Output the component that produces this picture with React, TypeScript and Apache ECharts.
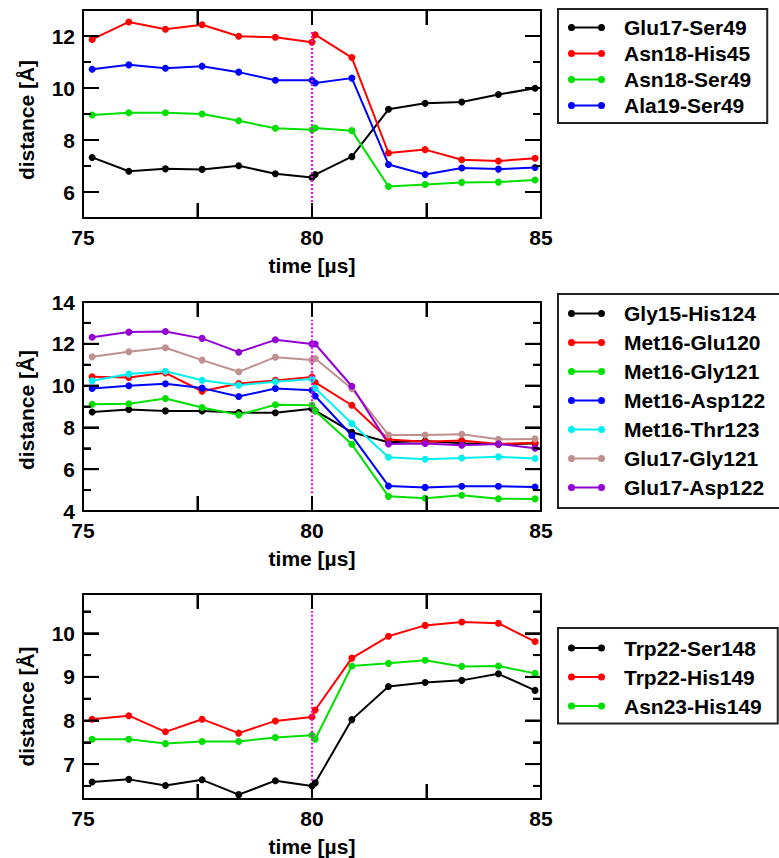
import React, { useEffect, useRef } from "react";
import * as echarts from "echarts";

// time points [µs]
const T = [75.2, 76.0, 76.8, 77.6, 78.4, 79.2, 80.0, 80.07, 80.87, 81.67, 82.47, 83.27, 84.07, 84.87];

// Panel 1
const glu17Ser49 = [7.33, 6.8, 6.89, 6.87, 7.01, 6.7, 6.56, 6.67, 7.36, 9.18, 9.41, 9.46, 9.75, 9.99];
const asn18His45 = [11.87, 12.54, 12.26, 12.43, 11.99, 11.95, 11.76, 12.05, 11.17, 7.5, 7.63, 7.24, 7.19, 7.3];
const asn18Ser49 = [8.96, 9.05, 9.05, 9.0, 8.74, 8.45, 8.39, 8.46, 8.36, 6.21, 6.29, 6.37, 6.38, 6.46];
const ala19Ser49 = [10.72, 10.89, 10.76, 10.84, 10.61, 10.3, 10.3, 10.19, 10.38, 7.06, 6.67, 6.92, 6.88, 6.94];

// Panel 2
const gly15His124 = [8.74, 8.86, 8.79, 8.79, 8.71, 8.7, 8.89, 8.8, 7.77, 7.29, 7.35, 7.24, 7.19, 7.23];
const met16Glu120 = [10.42, 10.39, 10.61, 9.73, 10.1, 10.25, 10.41, 10.15, 9.06, 7.42, 7.31, 7.37, 7.21, 7.26];
const met16Gly121 = [9.11, 9.13, 9.38, 8.95, 8.6, 9.08, 9.06, 8.79, 7.19, 4.7, 4.61, 4.75, 4.59, 4.58];
const met16Asp122 = [9.86, 9.99, 10.09, 9.88, 9.48, 9.86, 9.78, 9.5, 7.61, 5.2, 5.13, 5.18, 5.18, 5.15];
const met16Thr123 = [10.23, 10.55, 10.69, 10.26, 10.02, 10.18, 10.31, 9.88, 8.19, 6.57, 6.48, 6.54, 6.59, 6.51];
const glu17Gly121 = [11.38, 11.62, 11.81, 11.22, 10.66, 11.36, 11.22, 11.3, 9.85, 7.64, 7.64, 7.67, 7.43, 7.45];
const glu17Asp122 = [12.31, 12.56, 12.59, 12.26, 11.6, 12.19, 11.99, 11.99, 9.97, 7.21, 7.23, 7.15, 7.21, 7.0];

// Panel 3
const trp22Ser148 = [6.59, 6.65, 6.51, 6.64, 6.3, 6.62, 6.5, 6.57, 8.02, 8.78, 8.87, 8.92, 9.07, 8.69];
const trp22His149 = [8.03, 8.11, 7.74, 8.03, 7.71, 7.99, 8.08, 8.24, 9.43, 9.93, 10.18, 10.26, 10.23, 9.81];
const asn23His149 = [7.57, 7.57, 7.47, 7.52, 7.52, 7.61, 7.66, 7.57, 9.25, 9.31, 9.38, 9.24, 9.25, 9.08];

// axis ranges / ticks
const yRange1 = [5, 13];
const yMajor1 = [6, 8, 10, 12];
const yMinor1 = [7, 9, 11];
const yRange2 = [4, 14];
const yMajor2 = [4, 6, 8, 10, 12, 14];
const yMinor2 = [5, 7, 9, 11, 13];
const yRange3 = [6.2, 10.9];
const yMajor3 = [7, 8, 9, 10];
const yMinor3 = [6.5, 7.5, 8.5, 9.5, 10.5];
const xRange = [75, 85];
const xTicks = [75, 77.5, 80, 82.5, 85];
const xLabels = [75, 80, 85];
const markerTime = 80;
const marker1 = [5.62, 12.23];
const marker2 = [4.85, 13.15];
const marker3 = [6.62, 10.51];

const FONT = "'Liberation Sans', Arial, Helvetica, sans-serif";

const panels = [
  {
    grid: { left: 83, top: 10, width: 458, height: 208 },
    yRange: yRange1, yMajor: yMajor1, yMinor: yMinor1, marker: marker1, namePad: 12,
    legend: { top: 9, padding: [8, 16, 7, 10], itemGap: 5 },
    series: [
      { name: "Glu17-Ser49", data: glu17Ser49, color: "#000000" },
      { name: "Asn18-His45", data: asn18His45, color: "#ff0000" },
      { name: "Asn18-Ser49", data: asn18Ser49, color: "#00e000" },
      { name: "Ala19-Ser49", data: ala19Ser49, color: "#0000ff" },
    ],
  },
  {
    grid: { left: 83, top: 302, width: 458, height: 209 },
    yRange: yRange2, yMajor: yMajor2, yMinor: yMinor2, marker: marker2, namePad: 7,
    legend: { top: 294, padding: [9, 16, 10, 10], itemGap: 8 },
    series: [
      { name: "Gly15-His124", data: gly15His124, color: "#000000" },
      { name: "Met16-Glu120", data: met16Glu120, color: "#ff0000" },
      { name: "Met16-Gly121", data: met16Gly121, color: "#00e000" },
      { name: "Met16-Asp122", data: met16Asp122, color: "#0000ff" },
      { name: "Met16-Thr123", data: met16Thr123, color: "#00f0f0" },
      { name: "Glu17-Gly121", data: glu17Gly121, color: "#c09090" },
      { name: "Glu17-Asp122", data: glu17Asp122, color: "#9400d3" },
    ],
  },
  {
    grid: { left: 83, top: 594, width: 458, height: 208 },
    yRange: yRange3, yMajor: yMajor3, yMinor: yMinor3, marker: marker3, namePad: 20,
    legend: { top: 628, padding: [9.5, 16, 7, 10], itemGap: 8 },
    series: [
      { name: "Trp22-Ser148", data: trp22Ser148, color: "#000000" },
      { name: "Trp22-His149", data: trp22His149, color: "#ff0000" },
      { name: "Asn23-His149", data: asn23His149, color: "#00e000" },
    ],
  },
];

const ICON =
  "path://M0,3.5A3.5,3.5,0,1,1,7,3.5A3.5,3.5,0,1,1,0,3.5ZM30,3.5A3.5,3.5,0,1,1,37,3.5A3.5,3.5,0,1,1,30,3.5ZM3.5,2.5L33.5,2.5L33.5,4.5L3.5,4.5Z";

const txt = () => ({ color: "#000", fontSize: 21, fontWeight: "bold", fontFamily: FONT });
const frameLine = () => ({ show: true, onZero: false, lineStyle: { color: "#000", width: 2 } });
const tick = (len: number, values: number[]) => ({
  show: true, inside: true, length: len, customValues: values, lineStyle: { color: "#000", width: 2 },
});

const firstSeriesIndex: number[] = [];

function buildOption() {
  const grid: any[] = [];
  const xAxis: any[] = [];
  const yAxis: any[] = [];
  const series: any[] = [];
  const legend: any[] = [];

  panels.forEach((p, g) => {
    grid.push(p.grid);
    xAxis.push({
      gridIndex: g, type: "value", min: xRange[0], max: xRange[1], position: "bottom",
      splitLine: { show: false },
      axisLine: frameLine(),
      axisTick: tick(15, xTicks),
      axisLabel: { ...txt(), margin: 9, customValues: xLabels },
      name: "time [µs]", nameLocation: "middle", nameGap: 37, nameTextStyle: txt(),
    });
    xAxis.push({
      gridIndex: g, type: "value", min: xRange[0], max: xRange[1], position: "top",
      splitLine: { show: false },
      axisLine: frameLine(),
      axisTick: tick(15, xTicks),
      axisLabel: { show: false },
    });

    const yb = (pos: string) => ({
      gridIndex: g, type: "value", min: p.yRange[0], max: p.yRange[1], position: pos,
      splitLine: { show: false },
    });
    yAxis.push({
      ...yb("left"),
      axisLine: frameLine(),
      axisTick: tick(16, p.yMajor),
      axisLabel: { ...txt(), margin: 8, customValues: p.yMajor },
      name: "distance [Å]", nameLocation: "middle", nameGap: 46,
      nameTextStyle: { ...txt(), padding: [0, p.namePad, 0, 0] },
    });
    yAxis.push({ ...yb("left"), axisLine: { show: false }, axisTick: tick(8, p.yMinor), axisLabel: { show: false } });
    yAxis.push({ ...yb("right"), axisLine: frameLine(), axisTick: tick(16, p.yMajor), axisLabel: { show: false } });
    yAxis.push({ ...yb("right"), axisLine: { show: false }, axisTick: tick(8, p.yMinor), axisLabel: { show: false } });

    firstSeriesIndex[g] = series.length;
    p.series.forEach((s, i) => {
      const item: any = {
        type: "line",
        name: s.name,
        xAxisIndex: 2 * g,
        yAxisIndex: 4 * g,
        data: T.map((t, k) => [t, s.data[k]]),
        symbol: "circle",
        symbolSize: 7,
        showSymbol: true,
        lineStyle: { color: s.color, width: 2 },
        itemStyle: { color: s.color },
        emphasis: { disabled: true },
      };
      if (i === 0) {
        item.markLine = {
          silent: true,
          symbol: ["none", "none"],
          label: { show: false },
          lineStyle: { color: "#ff00ff", type: [2, 2], width: 2 },
          data: [[{ coord: [markerTime, p.marker[0]] }, { coord: [markerTime, p.marker[1]] }]],
        };
      }
      series.push(item);
    });

    legend.push({
      orient: "vertical",
      left: 558,
      top: p.legend.top,
      padding: p.legend.padding,
      itemGap: p.legend.itemGap,
      itemWidth: 37,
      itemHeight: 7,
      icon: ICON,
      borderColor: "#222",
      borderWidth: 2,
      selectedMode: false,
      textStyle: { ...txt(), lineHeight: 21, padding: [0, 0, 0, 14] },
      data: p.series.map((s) => s.name),
    });
  });

  return { animation: false, grid, xAxis, yAxis, series, legend };
}

// Frame ticks placed through the chart's own scales (convertToPixel)
function buildTickGraphics(chart: any) {
  const els: any[] = [];
  const seg = (x1: number, y1: number, x2: number, y2: number) => ({
    type: "line",
    silent: true,
    z: 50,
    shape: { x1, y1, x2, y2 },
    style: { stroke: "#000", lineWidth: 2 },
  });
  panels.forEach((p, g) => {
    const finder = { seriesIndex: firstSeriesIndex[g] };
    const px = (x: number, y: number) => chart.convertToPixel(finder, [x, y]) as number[];
    xTicks.forEach((v) => {
      if (v <= xRange[0] || v >= xRange[1]) return;
      const b = px(v, p.yRange[0]);
      const t = px(v, p.yRange[1]);
      if (!b || !t || isNaN(b[0]) || isNaN(t[0])) return;
      els.push(seg(b[0], b[1], b[0], b[1] - 15));
      els.push(seg(t[0], t[1], t[0], t[1] + 15));
    });
    const addY = (vals: number[], len: number) => {
      vals.forEach((v) => {
        if (v <= p.yRange[0] || v >= p.yRange[1]) return;
        const l = px(xRange[0], v);
        const r = px(xRange[1], v);
        if (!l || !r || isNaN(l[1]) || isNaN(r[1])) return;
        els.push(seg(l[0], l[1], l[0] + len, l[1]));
        els.push(seg(r[0], r[1], r[0] - len, r[1]));
      });
    };
    addY(p.yMajor, 16);
    addY(p.yMinor, 8);
  });
  return els;
}

export default function App() {
  const ref = useRef<HTMLDivElement>(null);
  useEffect(() => {
    if (!ref.current) return;
    const chart = echarts.init(ref.current, undefined, { renderer: "svg" });
    chart.setOption(buildOption() as any);
    try {
      const els = buildTickGraphics(chart);
      if (els.length) chart.setOption({ graphic: { elements: els } } as any);
    } catch (e) {
      // keep the chart as drawn if tick placement fails
    }
    return () => chart.dispose();
  }, []);
  return (
    <div
      ref={ref}
      style={{ position: "fixed", left: 0, top: 0, width: 779, height: 858, background: "#fff" }}
    />
  );
}
